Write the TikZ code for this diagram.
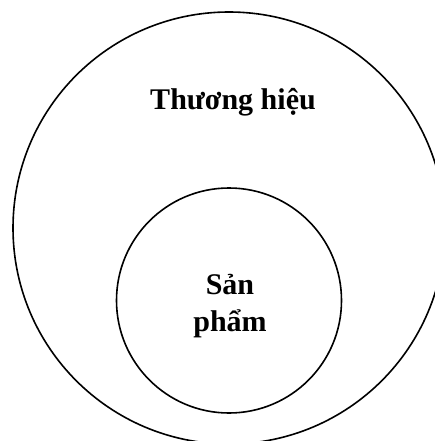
\documentclass[tikz,border=0pt]{standalone}
\usepackage{fontspec}
\setmainfont{Liberation Serif}
\usetikzlibrary{positioning}

\begin{document}
\begin{tikzpicture}[
    x=1pt, y=-1pt,
    ring/.style={draw, circle, line width=1.6pt, inner sep=0pt},
    ringlabel/.style={font=\bfseries\fontsize{30}{37}\selectfont, align=center, inner sep=0pt}
  ]
    \useasboundingbox (0,0) rectangle (435,441);
    \node[ring, minimum size=432pt] (brand) at (229,228) {};
    \node[ring, minimum size=225pt] (product) at (229,300.5) {};
    \node[ringlabel] (brandtext) at (233,102) {Thương hiệu};
    \node[ringlabel] (producttext) at (230,306) {Sản\\phẩm};
  \end{tikzpicture}
\end{document}
